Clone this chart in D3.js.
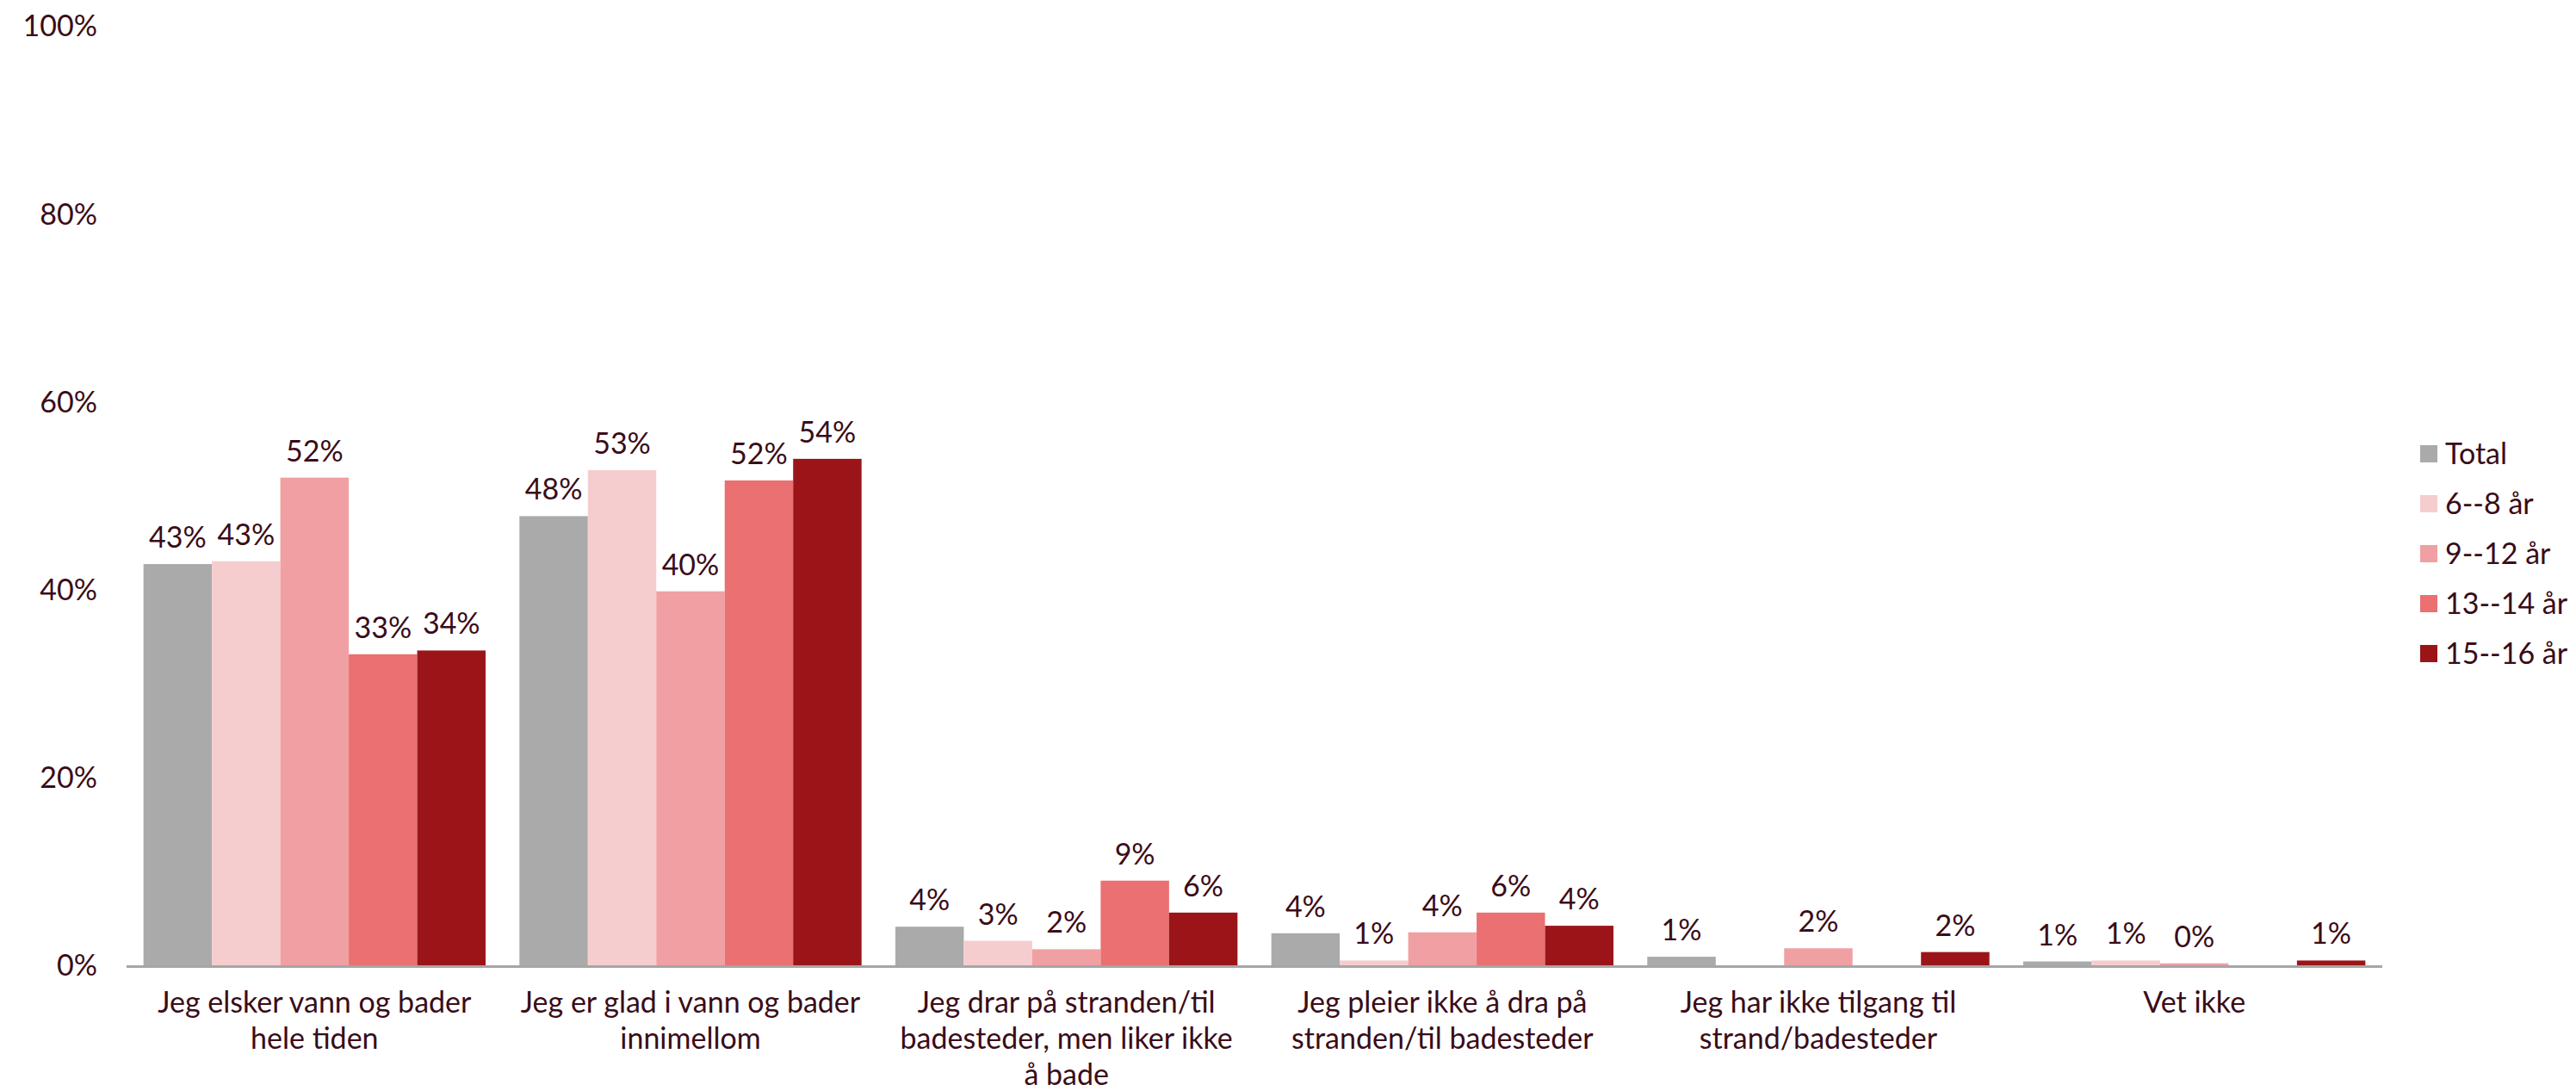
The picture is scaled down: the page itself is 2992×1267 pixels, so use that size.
<!DOCTYPE html>
<html>
<head>
<meta charset="utf-8">
<script src="https://cdn.jsdelivr.net/npm/d3@7"></script>
<style>
  html, body { margin: 0; padding: 0; background: #ffffff; }
  svg { display: block; }
  text { font-family: Lato, "Open Sans", "Liberation Sans", sans-serif; fill: #3a0c18; }
</style>
</head>
<body>
<svg id="chart" width="2992" height="1267"></svg>
<script>
// Answer categories (line breaks mark where each label wraps)
const categories = [
  "Jeg elsker vann og bader\nhele tiden",
  "Jeg er glad i vann og bader\ninnimellom",
  "Jeg drar på stranden/til\nbadesteder, men liker ikke\nå bade",
  "Jeg pleier ikke å dra på\nstranden/til badesteder",
  "Jeg har ikke tilgang til\nstrand/badesteder",
  "Vet ikke"
];

// Age groups shown as series
const seriesNames = ["Total", "6--8 år", "9--12 år", "13--14 år", "15--16 år"];
const seriesColors = ["#aaaaaa", "#f6cdcf", "#f0a0a2", "#ea7072", "#9b1518"];

// Share (%) per category, one array per series; null = no answer shown
const total   = [42.8, 47.9, 4.2, 3.5, 1.0, 0.5];
const age6_8  = [43.1, 52.8, 2.7, 0.6, null, 0.6];
const age9_12 = [52.0, 39.9, 1.8, 3.6, 1.9, 0.3];
const age13_14 = [33.2, 51.7, 9.1, 5.7, null, null];
const age15_16 = [33.6, 54.0, 5.7, 4.3, 1.5, 0.6];

const seriesValues = [total, age6_8, age9_12, age13_14, age15_16];

const yTicks = [0, 20, 40, 60, 80, 100];

const svg = d3.select("#chart");

const x0 = d3.scaleBand()
  .domain(d3.range(categories.length))
  .range([147, 2767])
  .paddingInner(0.09)
  .paddingOuter(0.045);

const x1 = d3.scaleBand()
  .domain(d3.range(seriesNames.length))
  .range([0, x0.bandwidth()])
  .padding(0);

const y = d3.scaleLinear().domain([0, 100]).range([1122, 31]);

// Y axis: labels only
const yAxis = svg.append("g")
  .attr("transform", "translate(147,0)")
  .call(d3.axisLeft(y).tickValues(yTicks).tickFormat(d => d + "%").tickSize(0).tickPadding(34));
yAxis.select(".domain").remove();
yAxis.selectAll("text")
  .style("font-family", "Lato, 'Open Sans', sans-serif")
  .style("font-size", "34px")
  .attr("fill", "#3a0c18");

// Bars
const groups = svg.append("g").selectAll("g")
  .data(categories)
  .join("g")
  .attr("transform", (d, i) => `translate(${x0(i)},0)`);

groups.each(function (cat, ci) {
  const g = d3.select(this);
  const items = seriesValues.map((vals, si) => ({ si, v: vals[ci] })).filter(d => d.v !== null);
  g.selectAll("rect")
    .data(items)
    .join("rect")
    .attr("x", d => x1(d.si))
    .attr("width", x1.bandwidth())
    .attr("y", d => y(d.v))
    .attr("height", d => y(0) - y(d.v))
    .attr("fill", d => seriesColors[d.si]);
  g.selectAll("text.val")
    .data(items)
    .join("text")
    .attr("class", "val")
    .attr("x", d => x1(d.si) + x1.bandwidth() / 2)
    .attr("y", d => y(d.v) - 19)
    .attr("text-anchor", "middle")
    .style("font-size", "34px")
    .text(d => Math.round(d.v) + "%");
});

// Baseline
svg.append("line")
  .attr("x1", 147).attr("x2", 2767)
  .attr("y1", y(0) + 0.5).attr("y2", y(0) + 0.5)
  .attr("stroke", "#a6a6a6")
  .attr("stroke-width", 3);

// Category labels
const xl = svg.append("g");
categories.forEach((cat, i) => {
  const t = xl.append("text")
    .attr("text-anchor", "middle")
    .style("font-size", "34px");
  cat.split("\n").forEach((line, li) => {
    t.append("tspan")
      .attr("x", x0(i) + x0.bandwidth() / 2)
      .attr("y", 1176 + li * 42)
      .text(line);
  });
});

// Legend
const legend = svg.append("g").selectAll("g")
  .data(seriesNames)
  .join("g")
  .attr("transform", (d, i) => `translate(2811,${527 + i * 58})`);
legend.append("rect")
  .attr("x", 0).attr("y", -10)
  .attr("width", 20).attr("height", 20)
  .attr("fill", (d, i) => seriesColors[i]);
legend.append("text")
  .attr("x", 29).attr("y", 0)
  .attr("dy", "0.35em")
  .style("font-size", "34px")
  .text(d => d);
</script>
</body>
</html>
